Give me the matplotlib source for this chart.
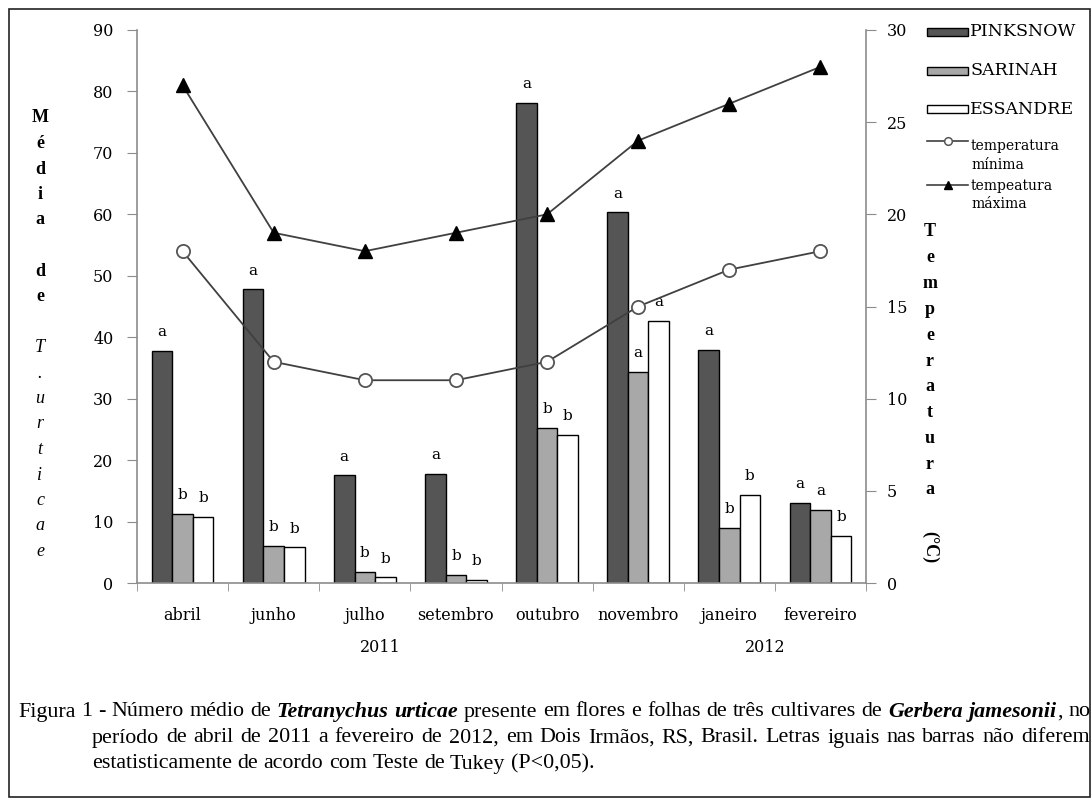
import numpy as np
import matplotlib
matplotlib.use("Agg")
import matplotlib.pyplot as plt
from matplotlib.patches import Rectangle
from matplotlib.lines import Line2D

# ---------------- data ----------------
months = ["abril", "junho", "julho", "setembro", "outubro", "novembro", "janeiro", "fevereiro"]
years = ["2011", "2012"]
pinksnow = [37.8, 47.8, 17.5, 17.8, 78.2, 60.3, 38.0, 13.0]
sarinah = [11.3, 6.0, 1.8, 1.3, 25.2, 34.4, 9.0, 11.9]
essandre = [10.8, 5.8, 0.9, 0.5, 24.1, 42.7, 14.3, 7.65]
temp_min = [18, 12, 11, 11, 12, 15, 17, 18]
temp_max = [27, 19, 18, 19, 20, 24, 26, 28]
letters_pink = ["a", "a", "a", "a", "a", "a", "a", "a"]
letters_sar = ["b", "b", "b", "b", "b", "a", "b", "a"]
letters_ess = ["b", "b", "b", "b", "b", "a", "b", "b"]
series_names = ["PINKSNOW", "SARINAH", "ESSANDRE"]
left_ticks = [0, 10, 20, 30, 40, 50, 60, 70, 80, 90]
right_ticks = [0, 5, 10, 15, 20, 25, 30]

W, H = 1092, 801
fig = plt.figure(figsize=(W / 100, H / 100), dpi=100)
fig.patch.set_facecolor("white")

TICKFONT = "DejaVu Serif"
GRAY = "#8c8c8c"

def px_axes(x0, y0, x1, y1):
    return [x0 / W, 1 - y1 / H, (x1 - x0) / W, (y1 - y0) / H]

ax = fig.add_axes(px_axes(137, 30, 866, 583))
ax2 = ax.twinx()

x = np.arange(len(months))
w = 0.226
dark, mid = "#555555", "#a8a8a8"
b1 = ax.bar(x - w, pinksnow, w, color=dark, edgecolor="black", linewidth=1.0, zorder=2)
b2 = ax.bar(x, sarinah, w, color=mid, edgecolor="black", linewidth=1.0, zorder=2)
b3 = ax.bar(x + w, essandre, w, color="white", edgecolor="black", linewidth=1.0, zorder=2)

for bars, labs in [(b1, letters_pink), (b2, letters_sar), (b3, letters_ess)]:
    for r, lab in zip(bars, labs):
        ax.annotate(lab, (r.get_x() + r.get_width() / 2, r.get_height()),
                    xytext=(0, 13.5), textcoords="offset points",
                    ha="center", va="center", fontsize=11, family=TICKFONT)

ax.set_xlim(-0.5, len(months) - 0.5)
ax.set_ylim(0, 90)
ax.set_yticks(left_ticks)
ax.set_yticklabels([str(t) for t in left_ticks], fontsize=11.5, family=TICKFONT)
ax.set_xticks(x)
ax.set_xticklabels(months, fontsize=11.5, family=TICKFONT)
ax.set_xticks(np.arange(-0.5, len(months)), minor=True)
ax.tick_params(axis="x", which="major", length=0, pad=17)
ax.tick_params(axis="x", which="minor", length=6, color=GRAY, direction="out")
ax.tick_params(axis="y", length=7, color=GRAY, direction="out", pad=10)
for s in ["top", "right"]:
    ax.spines[s].set_visible(False)
for s in ["left", "bottom"]:
    ax.spines[s].set_color(GRAY)
    ax.spines[s].set_linewidth(1.2)

ax2.plot(x, temp_min, color="#404040", lw=1.3, marker="o", ms=9.5,
         mfc="white", mec="#555555", mew=1.3, zorder=3)
ax2.plot(x, temp_max, color="#404040", lw=1.3, marker="^", ms=9.5,
         mfc="black", mec="black", zorder=3)
ax2.set_ylim(0, 30)
ax2.set_yticks(right_ticks)
ax2.set_yticklabels([str(t) for t in right_ticks], fontsize=11.5, family=TICKFONT)
ax2.tick_params(axis="y", length=7, color=GRAY, direction="out", pad=8)
for s in ["top", "left", "bottom"]:
    ax2.spines[s].set_visible(False)
ax2.spines["right"].set_color(GRAY)
ax2.spines["right"].set_linewidth(1.2)

# ---------------- overlay in pixel coordinates ----------------
ov = fig.add_axes([0, 0, 1, 1])
ov.set_xlim(0, W)
ov.set_ylim(H, 0)
ov.axis("off")

# outer frame
ov.add_patch(Rectangle((9, 9), 1081, 788, fill=False, edgecolor="#222222", lw=1.2))

# left vertical label
chars = [("M", "bold", "normal"), ("é", "bold", "normal"), ("d", "bold", "normal"),
         ("i", "bold", "normal"), ("a", "bold", "normal"), (" ", "bold", "normal"),
         ("d", "bold", "normal"), ("e", "bold", "normal"), (" ", "bold", "normal"),
         ("T", "normal", "italic"), (".", "normal", "italic"), ("u", "normal", "italic"),
         ("r", "normal", "italic"), ("t", "normal", "italic"), ("i", "normal", "italic"),
         ("c", "normal", "italic"), ("a", "normal", "italic"), ("e", "normal", "italic")]
for i, (c, wt, st) in enumerate(chars):
    ov.text(40, 118 + i * 25.5, c, ha="center", va="center", fontsize=13,
            family="Liberation Serif", weight=wt, style=st)

# right vertical label
rchars = "Temperatura"
for i, c in enumerate(rchars):
    ov.text(930, 232 + i * 25.8, c, ha="center", va="center", fontsize=13,
            family="Liberation Serif", weight="bold")
ov.text(930, 547, "(°C)", ha="center", va="center", fontsize=13,
        family="Liberation Serif", weight="bold", rotation=-90)

# legend
leg_fills = [dark, mid, "white"]
leg_y = [32, 70.5, 109]
for name, fc, yy in zip(series_names, leg_fills, leg_y):
    ov.add_patch(Rectangle((927, yy - 4), 41, 8, facecolor=fc, edgecolor="black", lw=1.0))
    ov.text(970, yy, name, ha="left", va="center", fontsize=12.5, family=TICKFONT)
LEGF = dict(ha="left", va="center", fontsize=10, family=TICKFONT)
ov.add_line(Line2D([927, 968], [141, 141], color="#404040", lw=1.2))
ov.plot([948], [141], marker="o", ms=5.5, mfc="white", mec="#555555", mew=1.1)
ov.text(971, 146, "temperatura", **LEGF)
ov.text(971, 165, "mínima", **LEGF)
ov.add_line(Line2D([927, 968], [185, 185], color="#404040", lw=1.2))
ov.plot([948], [185], marker="^", ms=6, mfc="black", mec="black")
ov.text(971, 186, "tempeatura", **LEGF)
ov.text(971, 204, "máxima", **LEGF)

# year labels
ov.text(380, 648, years[0], ha="center", va="center", fontsize=11.5, family=TICKFONT)
ov.text(765, 648, years[1], ha="center", va="center", fontsize=11.5, family=TICKFONT)

# caption (justified)
renderer = fig.canvas.get_renderer()
CAPFONT = "Liberation Serif"

def tokens(pieces):
    out = []
    for txt, wt, st in pieces:
        for wd in txt.split():
            out.append([wd, wt, st])
    merged = []
    for t in out:
        if t[0] in (",", ".") and merged:
            merged.append(t + ["glue"])
        else:
            merged.append(t + [""])
    return merged

def measure(tok, size):
    t = ov.text(0, 0, tok[0], fontsize=size, family=CAPFONT, weight=tok[1], style=tok[2])
    wdt = t.get_window_extent(renderer).width
    t.remove()
    return wdt

line1 = tokens([("Figura 1 - Número médio de", "normal", "normal"),
                ("Tetranychus urticae", "bold", "italic"),
                ("presente em flores e folhas de três cultivares de", "normal", "normal"),
                ("Gerbera jamesonii", "bold", "italic"),
                (", no", "normal", "normal")])
line2 = tokens([("período de abril de 2011 a fevereiro de 2012, em Dois Irmãos, RS, Brasil. Letras iguais nas barras não diferem", "normal", "normal")])
line3 = tokens([("estatisticamente de acordo com Teste de Tukey (P<0,05).", "normal", "normal")])

size = 12.5
space_w = measure(("a b", "normal", "normal"), size) - measure(("ab", "normal", "normal"), size)
nat = sum(measure(t, size) for t in line1) + space_w * (len(line1) - 2)
size = size * 1070 / nat

def draw_line(toks, x0, x1, y, justify=True):
    widths = [measure(t, size) for t in toks]
    sp = measure(("a b", "normal", "normal"), size) - measure(("ab", "normal", "normal"), size)
    ngaps = sum(1 for t in toks[1:] if t[3] != "glue")
    if justify:
        gap = (x1 - x0 - sum(widths)) / ngaps
    else:
        gap = sp
    xx = x0
    for i, (t, wd) in enumerate(zip(toks, widths)):
        if i > 0:
            xx += 0 if t[3] == "glue" else gap
        ov.text(xx, y, t[0], ha="left", va="center", fontsize=size, family=CAPFONT,
                weight=t[1], style=t[2])
        xx += wd

draw_line(line1, 18, 1090, 712)
draw_line(line2, 92, 1090, 738)
draw_line(line3, 92, 1090, 764, justify=False)

fig.savefig("out.png", dpi=100, facecolor="white")
